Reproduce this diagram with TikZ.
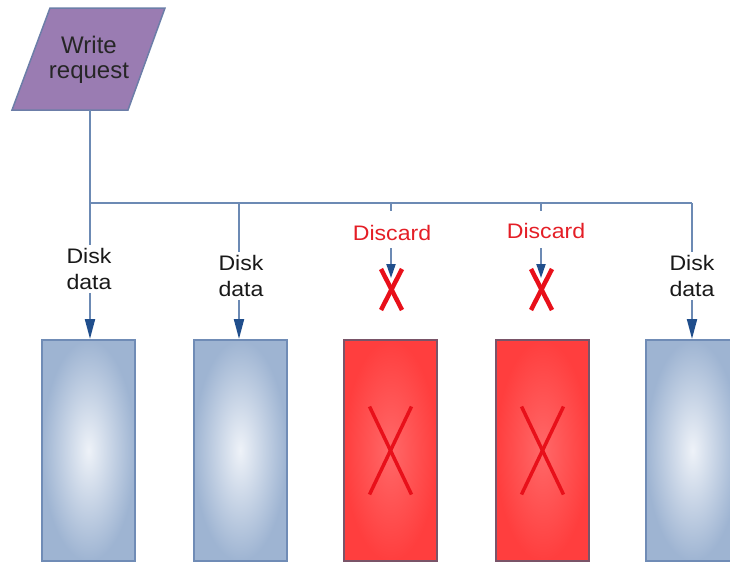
\documentclass[tikz,border=0pt]{standalone}
\usepackage{fontspec}
\setmainfont{Liberation Sans}
\newfontfamily\lab[FakeStretch=1.1]{Liberation Sans}
\usetikzlibrary{arrows.meta}

\definecolor{wire}{RGB}{108,138,180}
\definecolor{tipblue}{RGB}{32,78,140}
\definecolor{reqfill}{RGB}{154,124,178}
\definecolor{reqedge}{RGB}{108,126,168}
\definecolor{diskedge}{RGB}{112,140,182}
\definecolor{diskout}{RGB}{158,180,210}
\definecolor{diskin}{RGB}{238,242,248}
\definecolor{badedge}{RGB}{122,84,104}
\definecolor{badout}{RGB}{255,62,62}
\definecolor{badin}{RGB}{255,104,104}
\definecolor{cross}{RGB}{232,16,26}
\definecolor{warn}{RGB}{228,30,38}

\tikzset{
  wireline/.style={draw=wire, line width=2pt},
  arrowline/.style={wireline, -{Triangle[length=20pt,width=10pt,fill=tipblue,color=tipblue]}},
  shortarrow/.style={wireline, -{Triangle[length=14pt,width=9pt,fill=tipblue,color=tipblue]}},
  disk/.style={draw=diskedge, line width=2pt, minimum width=93pt, minimum height=221pt,
    inner sep=0pt, shading=radial, inner color=diskin, outer color=diskout},
  baddisk/.style={draw=badedge, line width=2pt, minimum width=93pt, minimum height=221pt,
    inner sep=0pt, shading=radial, inner color=badin, outer color=badout},
  disklabel/.style={font=\lab\fontsize{21}{26}\selectfont, align=center, text=black!90, inner sep=3pt},
  droplabel/.style={font=\lab\fontsize{21}{26}\selectfont, text=warn, inner sep=2pt},
  bigcross/.style={draw=cross, line width=3.5pt},
  smallcross/.style={draw=cross, line width=4.5pt},
}

\begin{document}
\begin{tikzpicture}[x=1pt, y=-1pt]
\useasboundingbox (0,0) rectangle (730,563);
\clip (0,0) rectangle (730,563);

% write request (parallelogram)
\filldraw[fill=reqfill, draw=reqedge, line width=1.5pt]
  (50,8) -- (165,8) -- (128,110) -- (12,110) -- cycle;
\node[font=\fontsize{24}{25}\selectfont, align=center, text=black!85] (req) at (89,60) {Write\\request};
\coordinate (reqout) at (90,110);

% bus coordinates
\coordinate (b1) at (90,203);
\coordinate (b2) at (239,203);
\coordinate (b3) at (391,203);
\coordinate (b4) at (541,203);
\coordinate (b5) at (692,203);

% disks
\node[disk] (d1) at (88.5,450.5) {};
\node[disk] (d2) at (240,450.5) {};
\node[baddisk] (d3) at (390.5,450.5) {};
\node[baddisk] (d4) at (542.5,450.5) {};
\node[disk] (d5) at (692.5,450.5) {};

% crosses on failed disks
\draw[bigcross] ([shift={(-21,-44)}]d3.center) -- ([shift={(21,44)}]d3.center);
\draw[bigcross] ([shift={(21,-44)}]d3.center) -- ([shift={(-21,44)}]d3.center);
\draw[bigcross] ([shift={(-21,-44)}]d4.center) -- ([shift={(21,44)}]d4.center);
\draw[bigcross] ([shift={(21,-44)}]d4.center) -- ([shift={(-21,44)}]d4.center);

% request line and bus
\draw[wireline] (reqout) -- (b1);
\draw[wireline] (b1) -- (b5);

% labels
\node[disklabel] (t1) at (89,269) {Disk\\data};
\node[disklabel] (t2) at (241,276) {Disk\\data};
\node[disklabel] (t5) at (692,276) {Disk\\data};
\node[droplabel] (x3) at (392,233) {Discard};
\node[droplabel] (x4) at (546,231) {Discard};

% data branches
\draw[wireline] (b1) -- (t1.north -| b1);
\draw[arrowline] (t1.south -| b1) -- (d1.north -| b1);
\draw[wireline] (b2) -- (t2.north -| b2);
\draw[arrowline] (t2.south -| b2) -- (d2.north -| b2);
\draw[wireline] (b5) -- (t5.north -| b5);
\draw[arrowline] (t5.south -| b5) -- (d5.north -| b5);

% discarded branches
\coordinate (k3) at (391,211);
\coordinate (k4) at (541,211);
\coordinate (s3) at (391,248);
\coordinate (e3) at (391,278);
\coordinate (s4) at (541,248);
\coordinate (e4) at (541,278);
\draw[wireline] (b3) -- (k3);
\draw[wireline] (b4) -- (k4);

\draw[smallcross] (381,269) -- (402,310);
\draw[smallcross] (402,269) -- (381,310);
\draw[smallcross] (531,269) -- (552,310);
\draw[smallcross] (552,269) -- (531,310);

\draw[shortarrow] (s3) -- (e3);
\draw[shortarrow] (s4) -- (e4);
\end{tikzpicture}
\end{document}
